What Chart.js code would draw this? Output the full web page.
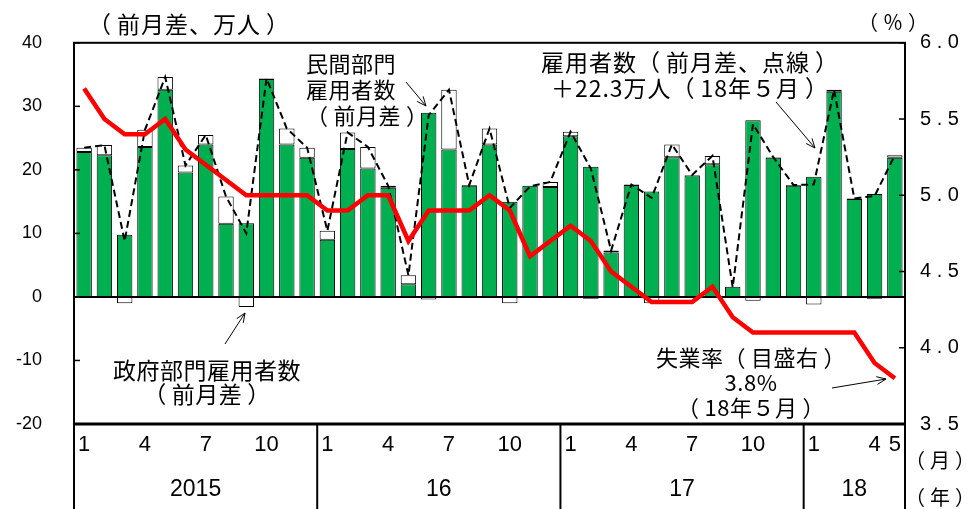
<!DOCTYPE html>
<html lang="ja">
<head>
<meta charset="utf-8">
<script src="https://cdn.jsdelivr.net/npm/chart.js@4/dist/chart.umd.min.js"></script>
<style>
body { margin: 0; background: #fff; }
#wrap { position: relative; width: 971px; height: 509px; }
.t { position: absolute; font-family: 'Noto Sans CJK JP', sans-serif; color: #000; white-space: nowrap;
     font-size: 21px; line-height: 26px; }
.c { text-align: center; transform: translateX(-50%); }
.a { margin-right: 5px; }
.z { margin-left: 5px; }
</style>
</head>
<body>
<div id="wrap">
<canvas id="grafico" width="971" height="509"></canvas>
<div class="t" style="left:88px;top:10px;font-size:23px;letter-spacing:1px"><span class="a">（</span>前月差、万人<span class="z">）</span></div>
<div class="t" style="left:858px;top:9px;font-size:20px"><span class="a">（</span>％<span class="z">）</span></div>
<div class="t" style="left:905px;top:447px;font-size:20px"><span class="a">（</span>月<span class="z">）</span></div>
<div class="t" style="left:905px;top:484px;font-size:20px"><span class="a">（</span>年<span class="z">）</span></div>
<div class="t" style="left:306px;top:49px;font-size:22px;letter-spacing:0.5px">民間部門<br>雇用者数<br><span class="a">（</span>前月差<span class="z">）</span></div>
<div class="t c" style="left:690px;top:48px;font-size:23px;letter-spacing:1px">雇用者数<span class="a">（</span>前月差、点線<span class="z">）</span><br>＋22.3万人<span class="a">（</span>18年５月<span class="z">）</span></div>
<div class="t c" style="left:207px;top:357px;font-size:23px;line-height:24px;letter-spacing:0.5px">政府部門雇用者数<br><span class="a">（</span>前月差<span class="z">）</span></div>
<div class="t c" style="left:751px;top:344px;font-size:22px;line-height:25px;letter-spacing:0.5px">失業率<span class="a">（</span>目盛右<span class="z">）</span><br>3.8%<br><span class="a">（</span>18年５月<span class="z">）</span></div>
</div>
<script>
// Eje de meses (ene 2015 - may 2018)
const etiquetasMes = [
    '1','','','4','','','7','','','10','','',
    '1','','','4','','','7','','','10','','',
    '1','','','4','','','7','','','10','','',
    '1','','','4','5'
];
const anios = ['2015', '16', '17', '18'];
const anioInicio = [0, 12, 24, 36];

// Empleo sector privado (前月差、万人)
const privado = [
    22.8, 22.3, 9.8, 23.6, 32.6, 19.6, 24.0, 11.5, 11.6, 34.3, 24.0, 21.9,
    9.0, 23.3, 20.2, 17.2, 2.0, 29.0, 23.2, 17.5, 24.0, 15.0, 17.5, 17.3,
    25.3, 20.5, 7.0, 17.6, 16.6, 22.0, 19.1, 20.9, 1.6, 27.8, 21.9, 17.5,
    18.9, 32.3, 15.4, 16.2, 21.9
];
// Empleo sector público
const gobierno = [
    0.7, 1.6, -1.0, 2.7, 2.0, 1.1, 1.5, 4.3, -1.6, 0.1, 2.5, 1.6,
    1.4, 2.6, 3.4, 0.3, 1.4, -0.4, 9.4, 0.1, 2.5, -1.0, -0.1, 0.8,
    0.7, -0.3, 0.3, 0.1, -1.0, 2.0, 0.1, 1.3, -0.1, -0.6, 0.1, 0.1,
    -1.2, 0.3, 0.1, -0.3, 0.4
];
// Tasa de desempleo (%)
const desempleo = [
    5.7, 5.5, 5.4, 5.4, 5.5, 5.3, 5.2, 5.1, 5.0, 5.0, 5.0, 5.0,
    4.9, 4.9, 5.0, 5.0, 4.7, 4.9, 4.9, 4.9, 5.0, 4.9, 4.6, 4.7,
    4.8, 4.7, 4.5, 4.4, 4.3, 4.3, 4.3, 4.4, 4.2, 4.1, 4.1, 4.1,
    4.1, 4.1, 4.1, 3.9, 3.8
];

const total = privado.map((v, i) => Math.round((v + gobierno[i]) * 10) / 10);

function flecha(ctx, x1, y1, x2, y2) {
    const ang = Math.atan2(y2 - y1, x2 - x1);
    ctx.beginPath();
    ctx.moveTo(x1, y1);
    ctx.lineTo(x2, y2);
    ctx.moveTo(x2 - 10 * Math.cos(ang - 0.4), y2 - 10 * Math.sin(ang - 0.4));
    ctx.lineTo(x2, y2);
    ctx.lineTo(x2 - 10 * Math.cos(ang + 0.4), y2 - 10 * Math.sin(ang + 0.4));
    ctx.stroke();
}

const decoracion = {
    id: 'decoracion',
    beforeDatasetsDraw(chart) {
        const { ctx, chartArea: a, scales: { y } } = chart;
        ctx.save();
        ctx.strokeStyle = '#000';
        ctx.lineWidth = 2;
        const y0 = y.getPixelForValue(0);
        ctx.beginPath();
        ctx.moveTo(a.left, y0);
        ctx.lineTo(a.right, y0);
        ctx.stroke();
        ctx.restore();
    },
    afterDraw(chart) {
        const { ctx, chartArea: a, scales: { x, y, y2 } } = chart;
        ctx.save();
        ctx.strokeStyle = '#000';

        // marco
        ctx.lineWidth = 2;
        ctx.strokeRect(a.left, a.top, a.right - a.left, a.bottom - a.top);
        ctx.lineWidth = 3;
        ctx.beginPath();
        ctx.moveTo(a.left, a.bottom);
        ctx.lineTo(a.right, a.bottom);
        ctx.stroke();

        // marcas hacia dentro
        ctx.lineWidth = 1.5;
        y.ticks.forEach(t => {
            const py = y.getPixelForValue(t.value);
            ctx.beginPath();
            ctx.moveTo(a.left, py);
            ctx.lineTo(a.left + 6, py);
            ctx.stroke();
        });
        y2.ticks.forEach(t => {
            const py = y2.getPixelForValue(t.value);
            ctx.beginPath();
            ctx.moveTo(a.right - 6, py);
            ctx.lineTo(a.right, py);
            ctx.stroke();
        });

        // separadores de años y etiquetas
        const medio = (x.getPixelForValue(1) - x.getPixelForValue(0)) / 2;
        ctx.lineWidth = 2;
        ctx.fillStyle = '#000';
        ctx.font = '23px "Liberation Sans"';
        ctx.textAlign = 'center';
        ctx.textBaseline = 'middle';
        anioInicio.forEach((ini, k) => {
            const xa = x.getPixelForValue(ini) - medio;
            const xb = k + 1 < anioInicio.length ? x.getPixelForValue(anioInicio[k + 1]) - medio : a.right;
            ctx.beginPath();
            ctx.moveTo(xa, a.bottom);
            ctx.lineTo(xa, chart.height);
            ctx.stroke();
            ctx.fillText(anios[k], (xa + xb) / 2, 490);
        });
        ctx.beginPath();
        ctx.moveTo(a.right, a.bottom);
        ctx.lineTo(a.right, chart.height);
        ctx.stroke();

        // flechas de anotaciones
        ctx.lineWidth = 1;
        flecha(ctx, 406, 82, 426, 106);
        flecha(ctx, 776, 102, 815, 148);
        flecha(ctx, 225, 344, 245, 313);
        flecha(ctx, 832, 388, 886, 379);
        ctx.restore();
    }
};

const ctx = document.getElementById('grafico').getContext('2d');

new Chart(ctx, {
    type: 'bar',
    data: {
        labels: etiquetasMes,
        datasets: [
            {
                label: '失業率',
                type: 'line',
                data: desempleo,
                yAxisID: 'y2',
                borderColor: '#FF0000',
                borderWidth: 4.5,
                pointRadius: 0,
                tension: 0,
                order: 0
            },
            {
                label: '雇用者数（前月差）',
                type: 'line',
                data: total,
                yAxisID: 'y',
                stack: 'total',
                borderColor: '#000',
                borderWidth: 2,
                borderDash: [7, 4],
                pointRadius: 0,
                tension: 0,
                order: 1
            },
            {
                label: '民間部門雇用者数',
                data: privado,
                yAxisID: 'y',
                backgroundColor: '#00B050',
                borderColor: '#000',
                borderWidth: 1,
                borderSkipped: false,
                barPercentage: 0.76,
                categoryPercentage: 1.0,
                order: 2
            },
            {
                label: '政府部門雇用者数',
                data: gobierno,
                yAxisID: 'y',
                backgroundColor: '#FFFFFF',
                borderColor: '#000',
                borderWidth: 1,
                borderSkipped: false,
                barPercentage: 0.76,
                categoryPercentage: 1.0,
                order: 2
            }
        ]
    },
    options: {
        responsive: false,
        animation: false,
        layout: { padding: { top: 39, left: 0, right: 0, bottom: 0 } },
        plugins: { legend: { display: false }, tooltip: { enabled: false } },
        scales: {
            x: {
                stacked: true,
                grid: { display: false, drawTicks: false },
                border: { display: false },
                ticks: {
                    autoSkip: false,
                    maxRotation: 0,
                    padding: 8,
                    color: '#000',
                    font: { family: 'Liberation Sans', size: 22 }
                },
                afterFit(s) { s.height = 85; }
            },
            y: {
                stacked: true,
                min: -20,
                max: 40,
                grid: { display: false, drawTicks: false },
                border: { display: false },
                ticks: {
                    stepSize: 10,
                    padding: 32,
                    color: '#000',
                    font: { family: 'Liberation Sans', size: 18 }
                },
                afterFit(s) { s.width = 74; }
            },
            y2: {
                position: 'right',
                min: 3.5,
                max: 6.0,
                grid: { display: false, drawTicks: false },
                border: { display: false },
                ticks: {
                    stepSize: 0.5,
                    padding: 15,
                    color: '#000',
                    font: { family: 'Liberation Sans', size: 20 },
                    callback: v => v.toFixed(1).split('').join(' ')
                },
                afterFit(s) { s.width = 66; }
            }
        }
    },
    plugins: [decoracion]
});
</script>
</body>
</html>
